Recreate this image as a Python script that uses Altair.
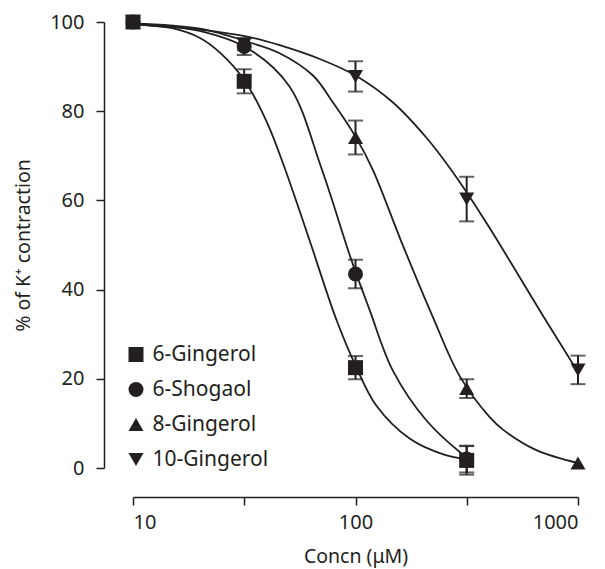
import altair as alt
import pandas as pd

# ---- data ----
series = ["6-Gingerol", "6-Shogaol", "8-Gingerol", "10-Gingerol"]
shapes = ["square", "circle", "triangle-up", "triangle-down"]

g6_x = [10, 31.6, 100, 316]
g6_y = [100, 86.7, 22.5, 1.7]
g6_e = [0, 2.7, 2.6, 3.2]

sh_x = [10, 31.6, 100, 316]
sh_y = [100, 94.5, 43.5, 2.0]
sh_e = [0, 1.9, 3.2, 3.0]

g8_x = [10, 31.6, 100, 316, 1000]
g8_y = [100, 95.0, 74.1, 17.8, 1.1]
g8_e = [0, 0, 3.8, 2.1, 0]

g10_x = [10, 31.6, 100, 316, 1000]
g10_y = [100, 95.0, 87.8, 60.3, 22.0]
g10_e = [0, 0, 3.4, 5.0, 3.2]

# fitted curves
c_g6_x = [10, 15, 20, 25, 31.6, 40, 48.1, 62.2, 82.0, 100, 124, 175, 250, 316]
c_g6_y = [99.5, 98.6, 96.4, 92.8, 87.0, 77.5, 67.2, 51, 33.3, 23, 14.0, 6.6, 3.0, 2.0]

c_sh_x = [10, 19.9, 33.5, 50.6, 70.3, 95.9, 115.8, 147, 208, 294, 316]
c_sh_y = [99.6, 98, 93.8, 85.5, 67.2, 46.6, 35.4, 21.9, 10.7, 3.6, 2.5]

c_g8_x = [10, 20, 33.5, 45.6, 64.4, 79.1, 100, 119.8, 160, 222, 294, 401, 460, 650, 1000]
c_g8_y = [99.7, 98.5, 95.4, 93.0, 88.0, 82.0, 74.3, 66.8, 51, 34, 20.6, 11.4, 8.6, 4.0, 1.1]

c_g10_x = [10, 20, 33.5, 45.6, 70, 100, 147, 208, 259, 325, 401, 530, 697, 1000]
c_g10_y = [99.5, 98.3, 96.6, 94.8, 91.6, 88.0, 82.0, 74.1, 68.0, 60.9, 53.8, 43.9, 34.1, 21.5]

x_ticks = [10, 31.62, 100, 316.2, 1000]
y_ticks = [0, 20, 40, 60, 80, 100]

INK = "#231f20"
FONT = "Noto Sans"

# ---- tables ----
pts = []
for name, xs, ys, es, order in [
    ("10-Gingerol", g10_x, g10_y, g10_e, 0),
    ("8-Gingerol", g8_x, g8_y, g8_e, 1),
    ("6-Shogaol", sh_x, sh_y, sh_e, 2),
    ("6-Gingerol", g6_x, g6_y, g6_e, 3),
]:
    for x, y, e in zip(xs, ys, es):
        pts.append({"series": name, "x": x, "y": y, "lo": y - e, "hi": y + e,
                    "err": e, "ord": order})
pts = pd.DataFrame(pts)
errs = pts[pts["err"] > 0]

crv = []
for name, xs, ys in [
    ("6-Gingerol", c_g6_x, c_g6_y),
    ("6-Shogaol", c_sh_x, c_sh_y),
    ("8-Gingerol", c_g8_x, c_g8_y),
    ("10-Gingerol", c_g10_x, c_g10_y),
]:
    for x, y in zip(xs, ys):
        crv.append({"series": name, "x": x, "y": y})
crv = pd.DataFrame(crv)

xscale = alt.Scale(type="log", domain=[10, 1000], nice=False)
yscale = alt.Scale(domain=[0, 100], nice=False)

xaxis = alt.Axis(
    values=x_ticks, format="d",
    labelExpr="(datum.value == 10 || datum.value == 100 || datum.value == 1000) ? datum.label : ''",
    offset=29, tickSize=8, labelPadding=7, titlePadding=15, grid=False,
    title="Concn (μM)",
)
yaxis = alt.Axis(
    values=y_ticks, offset=29, tickSize=8, labelPadding=12, titlePadding=16,
    grid=False, title="% of K⁺ contraction",
)

lines = alt.Chart(crv).mark_line(color=INK, strokeWidth=1.8, interpolate="catmull-rom").encode(
    x=alt.X("x:Q", scale=xscale, axis=xaxis),
    y=alt.Y("y:Q", scale=yscale, axis=yaxis),
    detail="series:N",
)

bars = alt.Chart(errs).mark_rule(color=INK, strokeWidth=2).encode(
    x="x:Q", y="lo:Q", y2="hi:Q",
)
cap_hi = alt.Chart(errs).mark_tick(color=INK, thickness=2, size=15, orient="horizontal").encode(
    x="x:Q", y="hi:Q",
)
cap_lo = alt.Chart(errs).mark_tick(color=INK, thickness=2, size=15, orient="horizontal").encode(
    x="x:Q", y="lo:Q",
)

points = alt.Chart(pts).mark_point(filled=True, opacity=1, size=225, color=INK).encode(
    x="x:Q", y="y:Q",
    shape=alt.Shape(
        "series:N",
        scale=alt.Scale(domain=series, range=shapes),
        legend=alt.Legend(
            title=None, orient="none", legendX=-7.5, legendY=322,
            symbolSize=225, symbolFillColor=INK, symbolStrokeWidth=0,
            symbolType="square", labelFontSize=21, labelFont=FONT, labelColor=INK,
            rowPadding=13, labelOffset=6, padding=0,
        ),
    ),
    order="ord:Q",
)

chart = alt.layer(lines, bars, cap_hi, cap_lo, points).properties(
    width=445, height=446,
    autosize=alt.AutoSizeParams(type="none"),
    padding={"left": 125, "top": 14, "right": 19, "bottom": 101},
).configure_view(stroke=None).configure_axis(
    domainColor=INK, domainWidth=1.5, tickColor=INK, tickWidth=1.5,
    labelColor=INK, titleColor=INK, labelFont=FONT, titleFont=FONT,
    labelFontSize=20, titleFontSize=19.5, titleFontWeight="normal",
)

chart.save("out.html", embed_options={"renderer": "svg", "actions": False})
